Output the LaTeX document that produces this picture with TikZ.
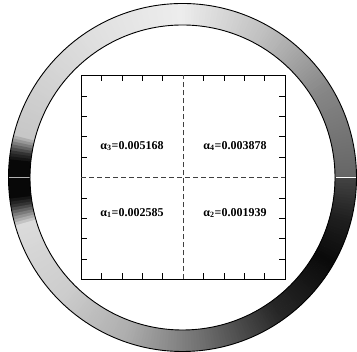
\documentclass[tikz,border=0pt]{standalone}
\usepackage{fontspec}
\setmainfont{Liberation Serif}
\usetikzlibrary{positioning}

\begin{document}
\begin{tikzpicture}[x=1pt, y=1pt,
    every node/.style={font=\bfseries\fontsize{12}{14}\selectfont, inner sep=0pt},
    rim/.style={black, line width=0.9pt},
    frame/.style={black, line width=0.9pt},
    tick/.style={black, line width=0.6pt},
    split/.style={black!75, line width=0.7pt, dash pattern=on 5pt off 3pt}]
  \useasboundingbox (0,0) rectangle (357,352);
  \coordinate (c) at (182.5,174.5);
  % shaded ring, gray level interpolated by angle
  \begin{scope}[shift={(c)}]
    \foreach \a/\b/\ga/\gb in {0/30/40/52, 30/60/52/75, 60/90/75/93, 90/120/93/88,
        120/165/88/78, 165/171/78/20, 171/174/20/3, 174/186/3/3, 186/189/3/20,
        189/196/20/86, 196/225/86/80, 225/250/80/68, 250/275/68/45, 275/305/45/15,
        305/330/15/4, 330/345/4/12, 345/360/12/27}{
      \pgfmathtruncatemacro{\e}{\b-1}
      \foreach \t in {\a,...,\e}{
        \pgfmathsetmacro{\g}{\ga+(\gb-\ga)*(\t-\a)/(\b-\a)}
        \fill[white!\g!black] (\t:152.5) arc[start angle=\t, end angle=\t+1.2, radius=152.5]
          -- (\t+1.2:174) arc[start angle=\t+1.2, end angle=\t, radius=174] -- cycle;
      }
    }
    \draw[white, line width=1.2pt] (153,0) -- (173.5,0);
    \draw[black!30, line width=0.4pt] (-153,0) -- (-173.5,0);
  \end{scope}
  \draw[rim] (c) circle[radius=174];
  \draw[rim] (c) circle[radius=152.5];

  % frame with ticks
  \coordinate (sw) at (81,72.5);
  \coordinate (ne) at (285,276.5);
  \draw[frame] (sw) rectangle (ne);
  \foreach \i in {1,2,3,4,6,7,8,9}{
    \draw[tick] (81+20.4*\i,276.5) -- ++(0,-6);
    \draw[tick] (81+20.4*\i,72.5) -- ++(0,6);
    \draw[tick] (81,72.5+20.4*\i) -- ++(6,0);
    \draw[tick] (285,72.5+20.4*\i) -- ++(-6,0);
  }
  \draw[split] (183,72.5) -- (183,276.5);
  \draw[split] (81,174.5) -- (285,174.5);

  \node (a3) at (132,206) {α\textsubscript{3}=0.005168};
  \node (a4) at (235,206) {α\textsubscript{4}=0.003878};
  \node (a1) at (132,139) {α\textsubscript{1}=0.002585};
  \node (a2) at (235,139) {α\textsubscript{2}=0.001939};
\end{tikzpicture}
\end{document}
